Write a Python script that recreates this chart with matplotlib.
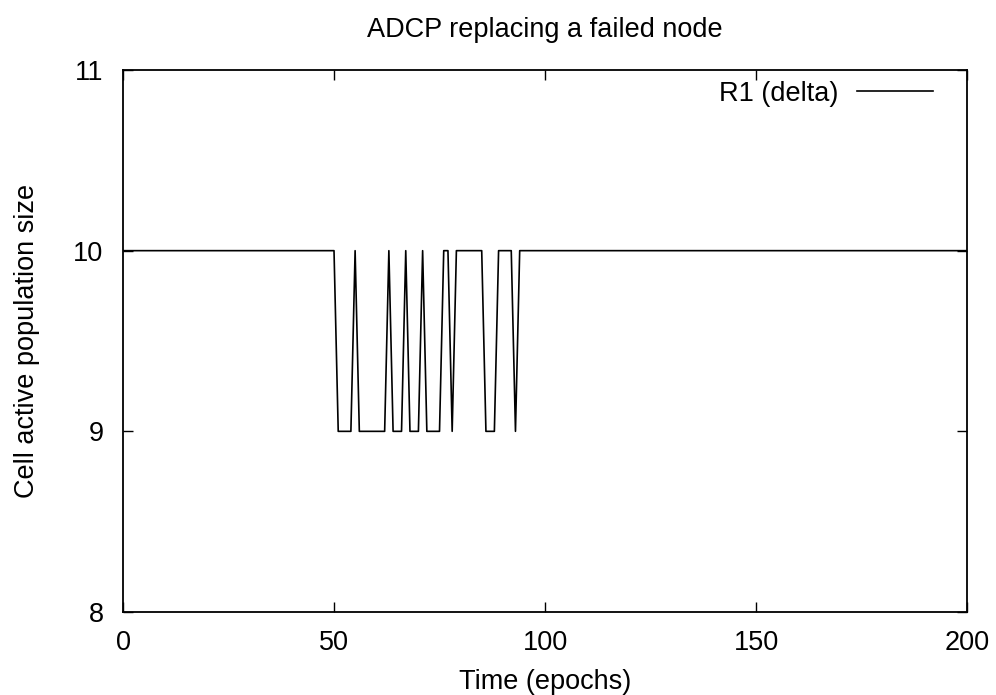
import matplotlib.pyplot as plt

# breakpoints of the R1 (delta) trace (value stays at 10 outside the listed dips)
epochs = [0, 50, 51, 54, 55, 56, 62, 63, 64, 66, 67, 68, 70, 71, 72, 75,
          76, 77, 78, 79, 85, 86, 88, 89, 92, 93, 94, 200]
population = [10, 10, 9, 9, 10, 9, 9, 10, 9, 9, 10, 9, 9, 10, 9, 9,
              10, 10, 9, 10, 10, 9, 9, 10, 10, 9, 10, 10]
x_ticks = [0, 50, 100, 150, 200]
y_ticks = [8, 9, 10, 11]

plt.rcParams['font.family'] = ['Liberation Sans', 'DejaVu Sans']
plt.rcParams['font.size'] = 19.5

fig = plt.figure(figsize=(9.96, 6.95), dpi=100)
ax = fig.add_axes([0.1235, 0.1194, 0.8474, 0.7799])
ax.plot(epochs, population, color='black', lw=1.2, label='R1 (delta)')

ax.set_xlim(0, 200)
ax.set_ylim(8, 11)
ax.set_xticks(x_ticks)
ax.set_yticks(y_ticks)
ax.tick_params(direction='in', top=True, right=True, length=7, width=1.0)
ax.tick_params(axis='x', pad=13)
ax.tick_params(axis='y', pad=14)
for s in ax.spines.values():
    s.set_linewidth(1.3)

ax.set_title('ADCP replacing a failed node', fontsize=19.5, pad=24)
ax.set_xlabel('Time (epochs)', labelpad=9)
ax.set_ylabel('Cell active population size', labelpad=24)

ax.legend(loc='upper right', bbox_to_anchor=(0.96, 0.98), frameon=False,
          markerfirst=False, handlelength=2.8, handletextpad=0.7,
          borderaxespad=0, borderpad=0)

plt.savefig('out.png', dpi=100)
